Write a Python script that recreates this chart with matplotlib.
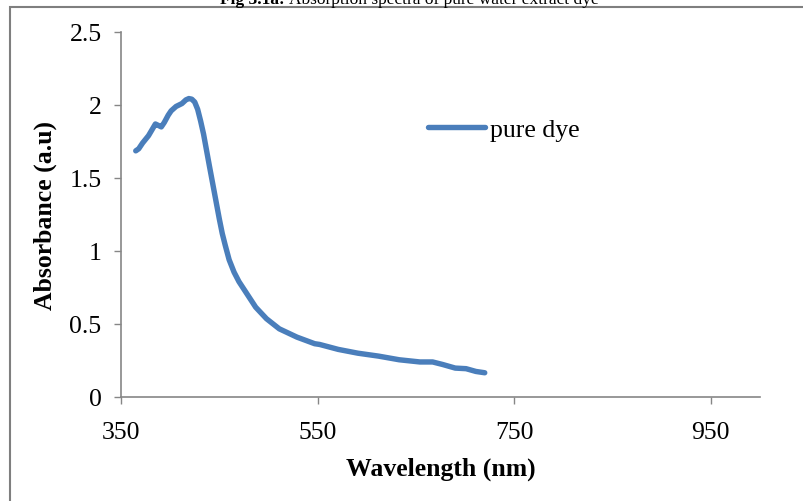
import matplotlib
matplotlib.use("Agg")
import matplotlib.pyplot as plt
from matplotlib.patches import Rectangle

# absorption spectrum
wavelength = [365, 368, 372, 378, 385, 388, 391, 394, 398, 401, 406, 412, 416,
              419, 422, 425, 428, 431, 434, 437, 440, 445, 450, 453, 456, 460,
              465, 470, 477, 487, 498, 511, 529, 547, 552, 571, 591, 612, 633,
              654, 667, 677, 690, 701, 711, 720]
absorbance = [1.686, 1.70, 1.74, 1.79, 1.87, 1.86, 1.85, 1.88, 1.93, 1.96,
              1.99, 2.01, 2.035, 2.044, 2.04, 2.02, 1.97, 1.89, 1.80, 1.69,
              1.58, 1.40, 1.22, 1.12, 1.04, 0.94, 0.855, 0.79, 0.718, 0.615,
              0.536, 0.467, 0.41, 0.365, 0.36, 0.326, 0.30, 0.28, 0.255, 0.24,
              0.24, 0.223, 0.198, 0.194, 0.175, 0.166]
xticks = [350, 550, 750, 950]
yticks = [0, 0.5, 1, 1.5, 2, 2.5]
ytick_labels = ["0", "0.5", "1", "1.5", "2", "2.5"]

plt.rcParams['font.family'] = ['Liberation Serif', 'DejaVu Serif']
W, H = 804, 502
fig = plt.figure(figsize=(W / 100, H / 100), dpi=100)
ax = fig.add_axes([121 / W, 1 - 398 / H, (760 - 121) / W, (398 - 33) / H])

ax.plot(wavelength, absorbance, color='#4a7ebb', linewidth=3.9,
        solid_capstyle='round', solid_joinstyle='round', label='pure dye')

ax.set_xlim(350, 1000)
ax.set_ylim(0, 2.5)
ax.set_xticks(xticks)
ax.set_yticks(yticks)
ax.set_yticklabels(ytick_labels)
for s in ['top', 'right']:
    ax.spines[s].set_visible(False)
for s in ['left', 'bottom']:
    ax.spines[s].set_color('#868686')
    ax.spines[s].set_linewidth(1.2)
ax.tick_params(colors='#868686', labelcolor='black', labelsize=18.5, length=5, width=1)
ax.tick_params(axis='x', pad=12)
ax.tick_params(axis='y', pad=9)

ax.set_xlabel('Wavelength (nm)', fontsize=18.5, fontweight='bold', labelpad=10)
ax.set_ylabel('Absorbance (a.u)', fontsize=18.5, fontweight='bold', labelpad=9)

ax.legend(loc='center left', bbox_to_anchor=((428 - 121) / (760 - 121), (398 - 131) / (398 - 33)),
          frameon=False, fontsize=18.5, handlelength=2.2, handletextpad=0.2,
          borderaxespad=0, borderpad=0)

# outer border and caption, cut off at the top like the source figure
fig.patches.append(Rectangle((10 / W, -0.1), 1.0, 1 - 8 / H + 0.1, transform=fig.transFigure,
                             fill=False, edgecolor='#7f7f7f', linewidth=1.5))
fig.text(285 / W, 1 - 4 / H, 'Fig 3.1a:', ha='right', va='baseline',
         fontsize=12.5, fontweight='bold')
fig.text(289 / W, 1 - 4 / H, 'Absorption spectra of pure water extract dye',
         ha='left', va='baseline', fontsize=12.5)

fig.savefig('out.png', dpi=100)
